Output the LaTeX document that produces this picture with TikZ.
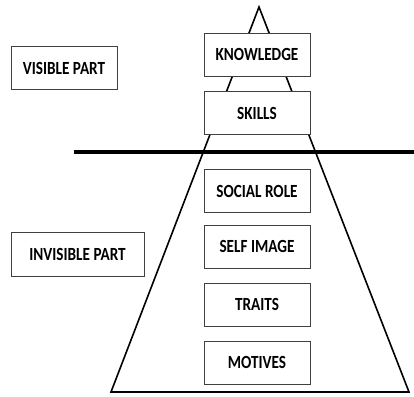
\documentclass[tikz,border=0pt]{standalone}
\usepackage{graphicx}
\usepackage{fontspec}
\setmainfont{Carlito}
\usetikzlibrary{positioning}
\newcommand{\tallcaps}[1]{\scalebox{1}[1.22]{#1}}

\begin{document}
\begin{tikzpicture}[x=1pt,y=-1pt,
  level/.style={draw=black!75,line width=0.8pt,fill=white,minimum width=106pt,
    minimum height=43pt,inner sep=0pt,font=\fontsize{15.2}{18}\selectfont\bfseries},
  side/.style={level}]
\useasboundingbox (0,0) rectangle (414,396);
% pyramid
\coordinate (apex) at (259,7);
\coordinate (baseL) at (111,392);
\coordinate (baseR) at (409,392);
\draw[line width=1.6pt,line join=miter] (apex)--(baseL)--(baseR)--cycle;
% waterline
\coordinate (waterL) at (74,152);
\coordinate (waterR) at (414,152);
\draw[line width=4pt] (waterL)--(waterR);
% levels
\node[level] (know) at (257,54.5) {\tallcaps{KNOWLEDGE}};
\node[level,below=15pt of know] (skills) {\tallcaps{SKILLS}};
\node[level,below=34pt of skills] (social) {\tallcaps{SOCIAL ROLE}};
\node[level,below=12pt of social] (self) {\tallcaps{SELF IMAGE}};
\node[level,below=14pt of self] (traits) {\tallcaps{TRAITS}};
\node[level,below=14pt of traits] (motives) {\tallcaps{MOTIVES}};
% labels on the left
\node[side] (visible) at (64,68) {\tallcaps{VISIBLE PART}};
\node[side,minimum width=133pt,minimum height=44pt] (invisible) at (77.5,254) {\tallcaps{INVISIBLE PART}};
\end{tikzpicture}
\end{document}
